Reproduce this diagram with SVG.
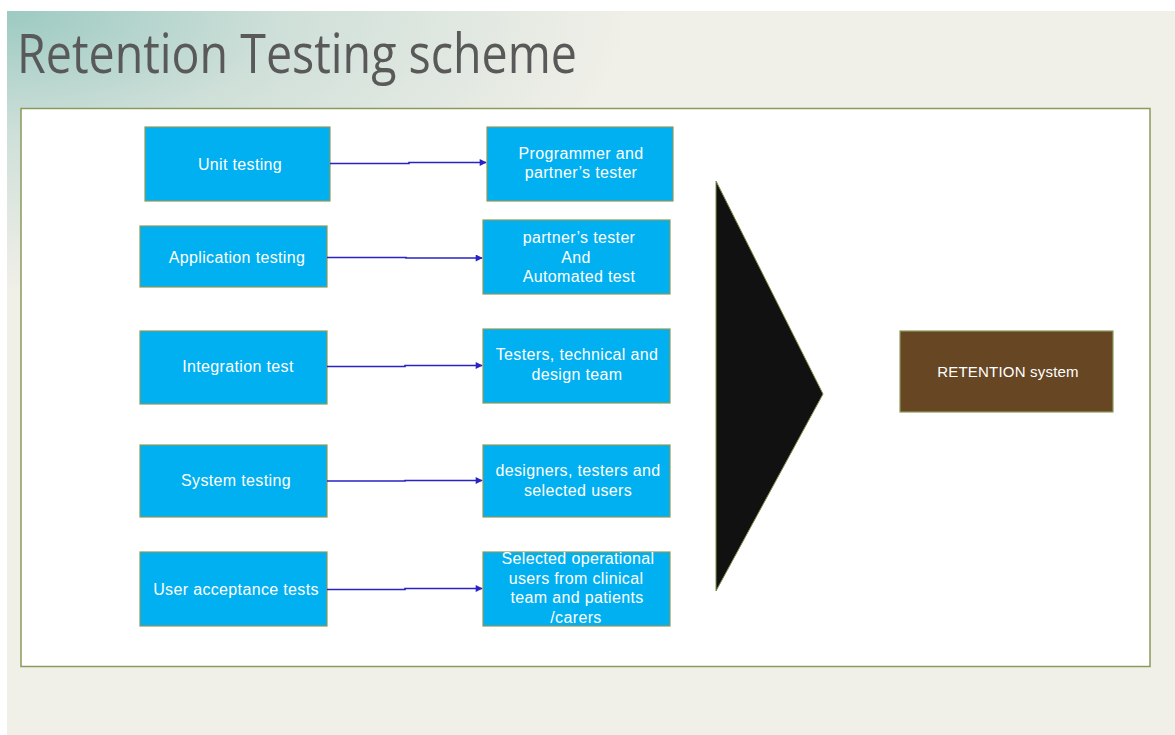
<svg xmlns="http://www.w3.org/2000/svg" width="1175" height="735" viewBox="0 0 1175 735">
<defs>
<radialGradient id="bgGrad" gradientUnits="userSpaceOnUse" cx="7" cy="11" r="620" gradientTransform="translate(7 11) scale(1 0.45) translate(-7 -11)">
<stop offset="0" stop-color="#9ccac2"/>
<stop offset="0.45" stop-color="#cfe0d9"/>
<stop offset="1" stop-color="#f0efe8"/>
</radialGradient>
<marker id="arr" viewBox="0 0 10 10" refX="9" refY="5" markerWidth="8" markerHeight="7" markerUnits="userSpaceOnUse" orient="auto">
<path d="M0,0 L10,5 L0,10 z" fill="#2a22c4"/>
</marker>
</defs>
<style>
.box{fill:#00b0f0;stroke:#8a9a5b;stroke-width:1.2}
.lbl{font-family:"Liberation Sans",Arial,sans-serif;font-size:16px;letter-spacing:0.35px;fill:#ffffff;text-anchor:middle}
.conn{fill:none;stroke:#2a22c4;stroke-width:1.6}
</style>
<rect x="0" y="0" width="1175" height="735" fill="#ffffff"/>
<rect x="7" y="11" width="1168" height="724" fill="#f0efe8"/>
<rect x="7" y="11" width="1168" height="724" fill="url(#bgGrad)"/>
<text x="17" y="73" font-family="'Open Sans','Liberation Sans',sans-serif" font-size="54" fill="#595959" textLength="560" lengthAdjust="spacingAndGlyphs">Retention Testing scheme</text>
<rect x="21" y="108.5" width="1129" height="558" fill="#ffffff" stroke="#8a9a5b" stroke-width="1.5"/>

<g id="n-unit"><rect class="box" x="145" y="127" width="185" height="74"/><text class="lbl" x="240" y="170">Unit testing</text></g>
<g id="n-app"><rect class="box" x="140" y="226" width="187" height="61"/><text class="lbl" x="237" y="263">Application testing</text></g>
<g id="n-integ"><rect class="box" x="140" y="331" width="187" height="73"/><text class="lbl" x="238" y="372">Integration test</text></g>
<g id="n-sys"><rect class="box" x="140" y="445" width="187" height="72"/><text class="lbl" x="236" y="486">System testing</text></g>
<g id="n-uat"><rect class="box" x="140" y="552" width="187" height="74"/><text class="lbl" x="236" y="595">User acceptance tests</text></g>

<g id="n-prog"><rect class="box" x="487" y="127" width="186" height="74"/><text class="lbl" x="581" y="159">Programmer and</text><text class="lbl" x="581" y="178">partner’s tester</text></g>
<g id="n-partner"><rect class="box" x="483" y="220" width="187" height="74"/><text class="lbl" x="579" y="243">partner’s tester</text><text class="lbl" x="576" y="263">And</text><text class="lbl" x="579" y="282">Automated test</text></g>
<g id="n-testers"><rect class="box" x="483" y="329" width="187" height="74"/><text class="lbl" x="577" y="360">Testers, technical and</text><text class="lbl" x="577" y="380">design team</text></g>
<g id="n-designers"><rect class="box" x="483" y="445" width="187" height="72"/><text class="lbl" x="578" y="476">designers, testers and</text><text class="lbl" x="578" y="496">selected users</text></g>
<g id="n-selected"><rect class="box" x="483" y="552" width="187" height="74"/><text class="lbl" x="578" y="564">Selected operational</text><text class="lbl" x="576" y="584">users from clinical</text><text class="lbl" x="577" y="603">team and patients</text><text class="lbl" x="576" y="623">/carers</text></g>

<g id="n-arrow"><polygon points="716,181 823,394 716,591" fill="#111111" stroke="#7a8f4a" stroke-width="1"/></g>
<g id="n-retention"><rect x="900" y="331" width="213" height="81" fill="#674624" stroke="#8a9a5b" stroke-width="1.2"/><text class="lbl" x="1008" y="377" style="font-size:15px;letter-spacing:0.2px">RETENTION system</text></g>

<g id="connectors">
<path class="conn" d="M330,163.5 H409 V162.5 H486" marker-end="url(#arr)"/>
<path class="conn" d="M327,257.5 H406 V258 H482" marker-end="url(#arr)"/>
<path class="conn" d="M327,366.5 H405 V365.5 H482" marker-end="url(#arr)"/>
<path class="conn" d="M327,481 H405 V480.5 H482" marker-end="url(#arr)"/>
<path class="conn" d="M327,589.5 H405 V588.5 H482" marker-end="url(#arr)"/>
</g>
</svg>
